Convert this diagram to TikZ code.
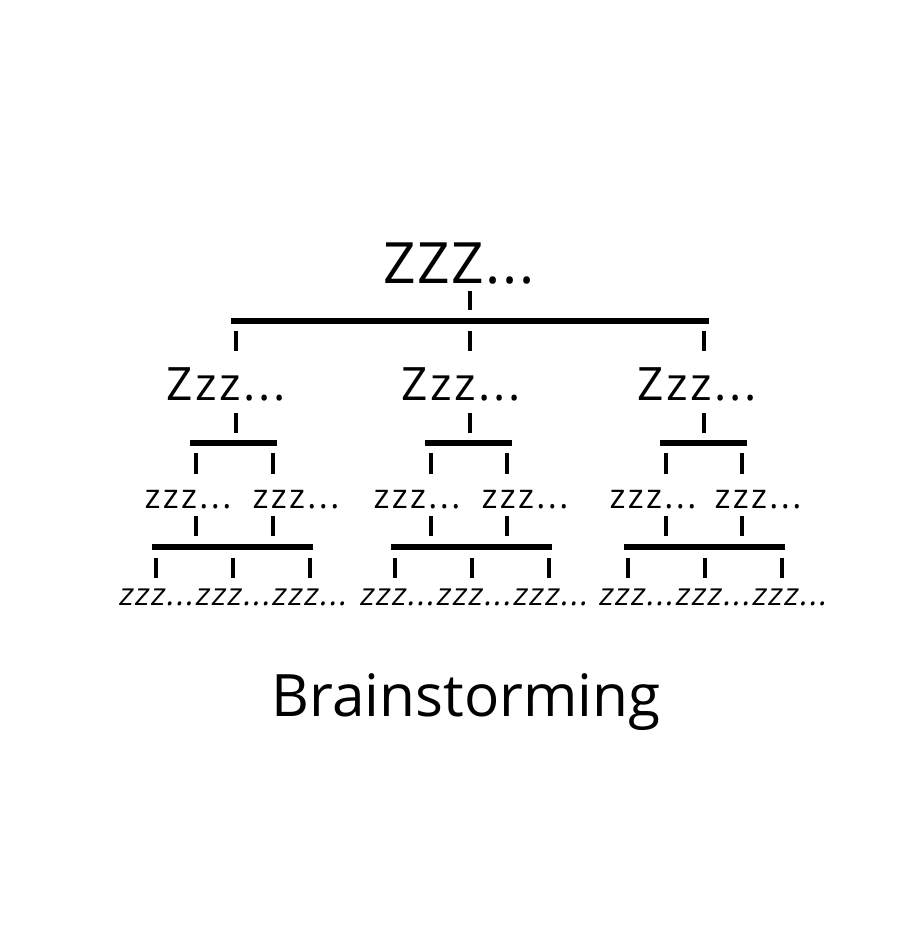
\documentclass[tikz,border=0pt]{standalone}
\usepackage{fontspec}
\setmainfont{Open Sans}
\newfontfamily\ztop[LetterSpace=3]{Open Sans}
\newfontfamily\zmid[LetterSpace=5.5]{Open Sans}
\newfontfamily\zlow[LetterSpace=7]{Open Sans}
\newfontfamily\slz[FakeSlant=0.18,LetterSpace=4.5]{Open Sans}
\begin{document}
\begin{tikzpicture}[x=1pt,y=-1pt,
  bar/.style={line width=5.5pt},
  tick/.style={line width=4.5pt},
  lab/.style={inner sep=0pt,anchor=base},
  top/.style={lab,font=\ztop\fontsize{57}{60}\selectfont},
  mid/.style={lab,font=\zmid\fontsize{46}{50}\selectfont},
  low/.style={lab,font=\zlow\fontsize{34}{38}\selectfont},
  bot/.style={lab,font=\slz\fontsize{31}{34}\selectfont},
  ttl/.style={lab,font=\fontsize{58.5}{62}\selectfont}]
\useasboundingbox (0,0) rectangle (910,940);
\fill[white] (0,0) rectangle (910,940);
% top
\node[top] (root) at (459,283) {ZZZ...};
\coordinate (r1) at (470,291); \coordinate (r2) at (470,310);
\draw[tick] (r1) -- (r2);
\coordinate (b0l) at (231,321); \coordinate (b0r) at (709,321);
\draw[bar] (b0l) -- (b0r);
% level 1
\foreach \i/\x/\c in {A/236/226,B/470/461,C/704/697}{
  \coordinate (t\i a) at (\x,331); \coordinate (t\i b) at (\x,351);
  \draw[tick] (t\i a) -- (t\i b);
  \node[mid] (n\i) at (\c,400) {Zzz...};
  \coordinate (u\i a) at (\x,413); \coordinate (u\i b) at (\x,433);
  \draw[tick] (u\i a) -- (u\i b);
}
% sub bars and level 2
\foreach \i/\l/\r/\p/\q/\cp/\cq in {A/190/277/196/273/188/296,B/425/512/431/507/417/525,C/660/747/666/742/653/758}{
  \coordinate (s\i l) at (\l,443); \coordinate (s\i r) at (\r,443);
  \draw[bar] (s\i l) -- (s\i r);
  \coordinate (v\i pa) at (\p,453); \coordinate (v\i pb) at (\p,474);
  \coordinate (v\i qa) at (\q,453); \coordinate (v\i qb) at (\q,474);
  \draw[tick] (v\i pa) -- (v\i pb);
  \draw[tick] (v\i qa) -- (v\i qb);
  \node[low] (m\i p) at (\cp,508) {zzz...};
  \node[low] (m\i q) at (\cq,508) {zzz...};
  \coordinate (w\i pa) at (\p,516); \coordinate (w\i pb) at (\p,536);
  \coordinate (w\i qa) at (\q,516); \coordinate (w\i qb) at (\q,536);
  \draw[tick] (w\i pa) -- (w\i pb);
  \draw[tick] (w\i qa) -- (w\i qb);
}
% bottom bars
\foreach \i/\l/\r/\a/\b/\c/\cx in {A/152/313/156/233/310/232,B/391/552/395/472/549/473,C/624/785/628/705/782/712}{
  \coordinate (k\i l) at (\l,547); \coordinate (k\i r) at (\r,547);
  \draw[bar] (k\i l) -- (k\i r);
  \foreach \t/\tx in {a/\a,b/\b,c/\c}{
    \coordinate (y\i\t a) at (\tx,558); \coordinate (y\i\t b) at (\tx,578);
    \draw[tick] (y\i\t a) -- (y\i\t b);
  }
  \node[bot] (z\i) at (\cx,605) {zzz...zzz...zzz...};
}
\node[ttl] (title) at (466,716) {Brainstorming};
\end{tikzpicture}
\end{document}
